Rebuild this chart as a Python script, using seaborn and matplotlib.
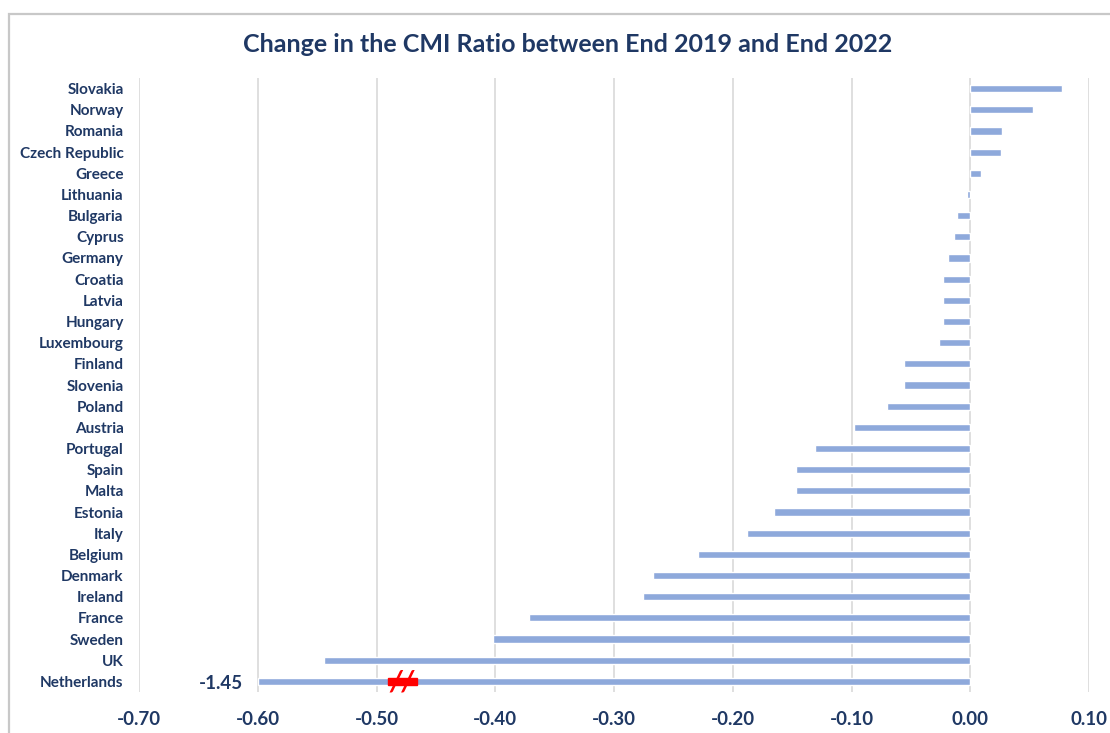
import numpy as np
import pandas as pd
import matplotlib.pyplot as plt
from matplotlib.patches import Rectangle
import seaborn as sns

# Change in CMI ratio, end 2019 -> end 2022
countries = ['Slovakia', 'Norway', 'Romania', 'Czech Republic', 'Greece',
             'Lithuania', 'Bulgaria', 'Cyprus', 'Germany', 'Croatia',
             'Latvia', 'Hungary', 'Luxembourg', 'Finland', 'Slovenia',
             'Poland', 'Austria', 'Portugal', 'Spain', 'Malta', 'Estonia',
             'Italy', 'Belgium', 'Denmark', 'Ireland', 'France', 'Sweden',
             'UK', 'Netherlands']
change = [0.077, 0.053, 0.027, 0.026, 0.009,
          -0.003, -0.011, -0.014, -0.019, -0.023,
          -0.023, -0.023, -0.026, -0.056, -0.056,
          -0.070, -0.098, -0.131, -0.147, -0.147, -0.165,
          -0.188, -0.229, -0.267, -0.276, -0.372, -0.402,
          -0.544, -1.45]
x_ticks = [-0.70, -0.60, -0.50, -0.40, -0.30, -0.20, -0.10, 0.00, 0.10]

NAVY = '#1F3864'
BAR = '#8EA9DB'
CUT = -0.60  # axis break: longer bars are cut here

df = pd.DataFrame({'Country': countries, 'Change': change})
df['Shown'] = np.maximum(df['Change'], CUT)

sns.set_theme(style='white')
plt.rcParams['font.family'] = ['Lato', 'DejaVu Sans']

fig = plt.figure(figsize=(11.1, 7.33), dpi=100)
ax = fig.add_axes([139 / 1110, 1 - 692 / 733, (1089 - 139) / 1110, (692 - 78) / 733])

ax.set_axisbelow(True)
ax.grid(axis='x', color='#D9D9D9', linewidth=1.2)
ax.grid(axis='y', visible=False)

sns.barplot(data=df, x='Shown', y='Country', orient='h', color=BAR,
            width=0.34, saturation=1, ax=ax)

ax.set_xlim(-0.70, 0.10)
ax.set_xticks(x_ticks)
ax.set_xticklabels([f'{t:.2f}' for t in x_ticks])
ax.set_xlabel('')
ax.set_ylabel('')
for s in ax.spines.values():
    s.set_visible(False)
ax.tick_params(axis='x', length=0, pad=14, labelsize=13.5, labelcolor=NAVY)
ax.tick_params(axis='y', length=0, pad=11, labelsize=11, labelcolor=NAVY)
for lab in ax.get_xticklabels() + ax.get_yticklabels():
    lab.set_fontweight('bold')

# break marker on the cut bar + its real value
n = len(countries) - 1
ax.text(CUT - 0.012, n + 0.1, f'{change[-1]:.2f}', ha='right', va='center',
        fontsize=13.5, fontweight='bold', color=NAVY)
ax.add_patch(Rectangle((-0.4905, n - 0.18), 0.025, 0.36, color='red', zorder=5))
ax.text(-0.4785, n + 0.05, '//', ha='center', va='center', fontsize=21,
        fontweight='bold', fontstyle='italic', color='red', zorder=6)

fig.text(568 / 1110, 1 - 45 / 733,
         'Change in the CMI Ratio between End 2019 and End 2022',
         ha='center', va='center', fontsize=18, fontweight='bold', color=NAVY)

# chart frame
fig.patches.append(Rectangle((9 / 1110, -0.1), 1.2, 1 - 14 / 733 + 0.1,
                             transform=fig.transFigure, fill=False,
                             edgecolor='#C8C8C8', linewidth=1.6))

fig.savefig('out.png', dpi=100)
